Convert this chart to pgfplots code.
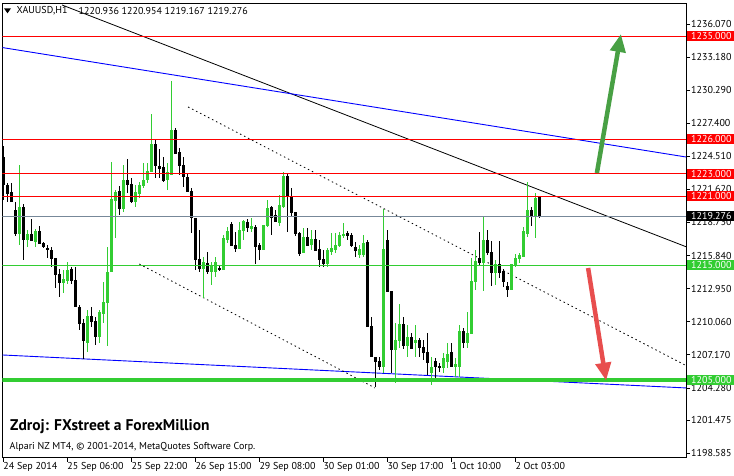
\documentclass[border=0pt]{standalone}
\usepackage{pgfplots}
\pgfplotsset{compat=1.18}
\usepackage{pgfplotstable}
\usepackage{fontspec}
\setmainfont{PT Sans}
\usetikzlibrary{arrows.meta}
\definecolor{cgreen}{RGB}{50,205,50}
\definecolor{cblue}{RGB}{0,0,255}
\definecolor{cred}{RGB}{255,0,0}
\definecolor{cgray}{RGB}{119,136,153}
\definecolor{arrgreen}{RGB}{72,160,68}
\definecolor{arrred}{RGB}{232,78,78}

\pgfplotstableread{
i o h l c
0 1224.42 1225.41 1220.69 1222.00
1 1222.00 1222.15 1220.54 1221.28
2 1221.39 1222.15 1220.54 1220.54
3 1219.79 1220.54 1217.57 1217.75
4 1217.70 1223.75 1216.76 1220.08
5 1220.08 1220.40 1215.45 1217.20
6 1217.20 1218.07 1216.61 1217.72
7 1217.70 1219.01 1217.11 1217.11
8 1217.05 1218.18 1216.56 1217.98
9 1217.98 1218.45 1216.91 1216.91
10 1216.91 1217.02 1216.47 1216.61
11 1216.52 1216.76 1215.60 1216.35
12 1216.32 1216.61 1214.86 1215.56
13 1215.60 1215.60 1212.98 1214.20
14 1214.20 1214.64 1212.24 1213.47
15 1213.47 1214.58 1212.54 1213.79
16 1213.64 1215.30 1213.35 1214.58
17 1214.64 1214.81 1213.35 1213.64
18 1213.70 1214.81 1211.37 1211.37
19 1211.37 1211.52 1209.33 1209.86
20 1209.92 1210.27 1206.77 1208.40
21 1208.22 1211.08 1207.44 1210.56
22 1210.56 1211.37 1209.62 1210.06
23 1210.12 1210.50 1208.02 1208.75
24 1208.75 1211.08 1208.17 1210.85
25 1210.73 1213.55 1209.92 1211.75
26 1211.75 1216.61 1207.94 1214.40
27 1214.40 1224.04 1214.40 1220.75
28 1220.63 1221.57 1217.35 1221.33
29 1221.42 1221.92 1219.38 1219.91
30 1219.91 1223.75 1219.62 1222.44
31 1222.44 1224.28 1221.28 1222.00
32 1222.09 1222.61 1220.43 1220.54
33 1220.54 1222.00 1220.11 1221.37
34 1221.22 1222.29 1220.84 1222.00
35 1221.94 1223.90 1221.71 1222.44
36 1222.44 1223.90 1222.15 1223.17
37 1223.17 1228.21 1223.17 1225.59
38 1225.59 1225.94 1222.59 1223.69
39 1223.69 1225.15 1222.59 1223.46
40 1223.60 1224.48 1222.29 1222.35
41 1222.44 1223.90 1221.57 1223.11
42 1222.88 1231.09 1222.88 1226.81
43 1226.81 1227.01 1224.77 1224.77
44 1224.86 1225.24 1222.88 1223.69
45 1223.75 1224.48 1221.85 1222.73
46 1222.73 1223.05 1221.42 1221.42
47 1221.42 1221.71 1217.78 1219.15
48 1219.15 1219.15 1214.58 1215.45
49 1215.54 1218.07 1214.43 1214.73
50 1214.73 1215.74 1212.16 1215.25
51 1215.16 1216.18 1214.20 1214.43
52 1214.43 1215.30 1213.27 1214.95
53 1214.43 1215.74 1213.99 1215.25
54 1214.78 1214.93 1214.49 1214.66
55 1214.58 1217.63 1214.58 1217.35
56 1217.20 1218.36 1216.91 1217.98
57 1218.60 1218.80 1216.70 1216.70
58 1216.76 1217.92 1216.18 1216.47
59 1216.47 1218.80 1216.47 1218.01
60 1218.01 1218.94 1217.20 1218.80
61 1218.80 1219.03 1217.90 1218.27
62 1218.22 1219.12 1217.90 1218.45
63 1218.36 1218.51 1215.07 1216.61
64 1216.76 1216.91 1215.45 1216.32
65 1216.32 1218.51 1216.32 1218.51
66 1218.45 1220.69 1218.36 1219.97
67 1220.05 1220.17 1217.63 1219.18
68 1219.38 1219.82 1218.80 1218.80
69 1218.74 1221.13 1218.45 1220.26
70 1220.11 1223.17 1219.97 1222.79
71 1222.79 1223.03 1217.92 1220.98
72 1220.98 1221.71 1219.23 1219.62
73 1219.62 1219.62 1217.57 1217.78
74 1217.78 1217.92 1215.83 1216.04
75 1216.12 1218.22 1216.04 1217.43
76 1217.43 1218.22 1216.67 1216.67
77 1216.76 1218.07 1216.32 1217.29
78 1217.29 1218.07 1216.26 1216.26
79 1216.39 1217.20 1214.81 1215.45
80 1215.54 1216.32 1214.86 1215.10
81 1215.10 1216.50 1214.86 1216.32
82 1216.15 1217.78 1215.89 1216.44
83 1216.39 1217.81 1216.06 1216.73
84 1216.67 1217.92 1216.61 1217.63
85 1217.55 1218.66 1217.35 1217.72
86 1217.84 1218.01 1217.20 1217.55
87 1217.61 1217.78 1216.56 1216.67
88 1216.61 1217.05 1215.74 1216.26
89 1215.89 1216.76 1215.60 1216.39
90 1215.89 1217.63 1215.74 1216.91
91 1216.96 1217.20 1209.62 1209.62
92 1209.71 1210.50 1207.00 1207.00
93 1207.00 1207.00 1204.38 1206.56
94 1206.63 1207.00 1205.84 1206.13
95 1206.13 1219.88 1205.55 1216.39
96 1217.20 1218.07 1212.68 1212.68
97 1212.74 1212.74 1205.55 1207.59
98 1207.59 1209.92 1204.68 1208.46
99 1208.40 1211.60 1207.74 1209.86
100 1209.86 1210.50 1207.67 1207.96
101 1207.96 1209.77 1207.00 1208.70
102 1208.70 1209.05 1207.74 1207.74
103 1208.22 1209.77 1207.00 1208.46
104 1208.46 1208.63 1207.00 1207.82
105 1207.82 1208.46 1206.71 1207.39
106 1207.39 1209.05 1205.40 1206.51
107 1205.64 1207.00 1204.53 1206.13
108 1206.63 1206.86 1205.11 1206.13
109 1206.19 1206.45 1205.66 1206.04
110 1206.04 1207.30 1205.55 1206.86
111 1206.56 1208.17 1205.99 1207.21
112 1207.44 1208.17 1206.13 1206.13
113 1206.13 1206.91 1205.25 1206.36
114 1206.13 1209.77 1205.25 1209.19
115 1209.19 1209.48 1207.74 1208.22
116 1208.22 1210.93 1207.74 1209.05
117 1209.05 1215.60 1209.05 1213.62
118 1213.55 1216.32 1212.83 1215.36
119 1215.60 1217.92 1215.01 1215.25
120 1215.25 1219.18 1212.74 1217.20
121 1217.20 1218.07 1215.89 1216.12
122 1216.12 1217.11 1213.18 1214.34
123 1214.34 1215.45 1213.27 1215.07
124 1215.07 1217.11 1213.85 1214.34
125 1214.43 1214.64 1213.12 1213.55
126 1213.18 1213.50 1212.24 1212.83
127 1212.83 1215.07 1212.83 1215.07
128 1215.01 1215.97 1214.86 1215.60
129 1215.60 1216.06 1215.19 1215.83
130 1215.74 1218.31 1215.74 1217.92
131 1217.78 1222.24 1217.49 1219.82
132 1219.82 1220.11 1218.45 1219.32
133 1219.32 1221.28 1217.35 1220.89
134 1220.936 1220.954 1219.167 1219.276
}\candles

\begin{document}
\begin{tikzpicture}[x=1pt,y=1pt]
\useasboundingbox (0,0) rectangle (734,475);
\begin{axis}[
  at={(2.5pt,17.5pt)}, anchor=south west, scale only axis,
  width=683.5pt, height=454.5pt,
  xmin=-0.2, xmax=170.675, ymin=1198.192, ymax=1237.905,
  axis line style={line width=0.8pt, black},
  tick style={black, line width=0.6pt},
  major tick length=4pt, tick align=outside,
  xtick pos=bottom, ytick pos=right, yticklabel pos=right,
  xtick={0,16,32,48,64,80,96,112,128},
  xticklabels={24 Sep 2014,25 Sep 06:00,25 Sep 22:00,26 Sep 15:00,29 Sep 08:00,30 Sep 01:00,30 Sep 17:00,1 Oct 10:00,2 Oct 03:00},
  ytick={1198.585,1201.475,1204.280,1207.170,1210.060,1212.950,1215.840,1218.730,1221.620,1224.510,1227.400,1230.290,1233.180,1236.070},
  yticklabels={1198.585,1201.475,1204.280,1207.170,1210.060,1212.950,1215.840,1218.730,1221.620,1224.510,1227.400,1230.290,1233.180,1236.070},
  tick label style={font=\fontsize{10}{12}\selectfont},
  xticklabel style={anchor=north west, inner sep=0pt, xshift=0pt, yshift=-1pt},
  yticklabel style={anchor=west, inner sep=0pt, xshift=1pt},
]
% trend lines
\addplot[black, line width=0.8pt] coordinates {(14.7,1237.73) (170.675,1216.61)};
\addplot[cblue, line width=0.9pt] coordinates {(-0.2,1234.01) (170.675,1224.45)};
\addplot[cblue, line width=0.9pt] coordinates {(-0.2,1207.15) (170.675,1204.27)};
\addplot[black, line width=0.8pt, dash pattern=on 1.5pt off 3pt] coordinates {(46.2,1228.82) (170.675,1206.23)};
\addplot[black, line width=0.8pt, dash pattern=on 1.5pt off 3pt] coordinates {(34.0,1215.10) (92.9,1204.27)};
% candles: wicks
\addplot[draw=none, mark=none, forget plot,
  restrict expr to domain={\thisrow{c}-\thisrow{o}}{0:100},
  error bars/.cd, y dir=both, y explicit, error mark=none,
  error bar style={draw=cgreen, line width=1pt, solid}]
  table[x=i, y expr={(\thisrow{h}+\thisrow{l})/2}, y error expr={(\thisrow{h}-\thisrow{l})/2}] {\candles};
\addplot[draw=none, mark=none, forget plot,
  restrict expr to domain={\thisrow{c}-\thisrow{o}}{-100:-0.0001},
  error bars/.cd, y dir=both, y explicit, error mark=none,
  error bar style={draw=black, line width=1pt, solid}]
  table[x=i, y expr={(\thisrow{h}+\thisrow{l})/2}, y error expr={(\thisrow{h}-\thisrow{l})/2}] {\candles};
% candles: bodies
\addplot[draw=none, mark=none, forget plot,
  restrict expr to domain={\thisrow{c}-\thisrow{o}}{0:100},
  error bars/.cd, y dir=both, y explicit, error mark=none,
  error bar style={draw=cgreen, line width=3pt, solid}]
  table[x=i, y expr={(\thisrow{o}+\thisrow{c})/2}, y error expr={abs(\thisrow{c}-\thisrow{o})/2+0.02}] {\candles};
\addplot[draw=none, mark=none, forget plot,
  restrict expr to domain={\thisrow{c}-\thisrow{o}}{-100:-0.0001},
  error bars/.cd, y dir=both, y explicit, error mark=none,
  error bar style={draw=black, line width=3pt, solid}]
  table[x=i, y expr={(\thisrow{o}+\thisrow{c})/2}, y error expr={abs(\thisrow{c}-\thisrow{o})/2+0.02}] {\candles};
% horizontal levels
\addplot[cred, line width=1pt] coordinates {(-0.2,1235) (170.675,1235)};
\addplot[cred, line width=1pt] coordinates {(-0.2,1226) (170.675,1226)};
\addplot[cred, line width=1pt] coordinates {(-0.2,1223) (170.675,1223)};
\addplot[cred, line width=1pt] coordinates {(-0.2,1221) (170.675,1221)};
\addplot[cgray, line width=1pt] coordinates {(-0.2,1219.276) (170.675,1219.276)};
\addplot[cgreen, line width=1pt] coordinates {(-0.2,1215) (170.675,1215)};
\addplot[cgreen, line width=4pt] coordinates {(-0.2,1205) (170.675,1205)};
% arrows
\draw[arrgreen, line width=4.5pt, -{Triangle[width=15pt,length=18pt]}] (axis cs:148.4,1223.05) -- (axis cs:154.4,1235.2);
\draw[arrred, line width=4.5pt, -{Triangle[width=15pt,length=18pt]}] (axis cs:146.2,1214.75) -- (axis cs:150.7,1204.9);
\coordinate (t1) at (axis cs:170.675,1235);
\coordinate (t2) at (axis cs:170.675,1226);
\coordinate (t3) at (axis cs:170.675,1223);
\coordinate (t4) at (axis cs:170.675,1221);
\coordinate (t5) at (axis cs:170.675,1219.276);
\coordinate (t6) at (axis cs:170.675,1215);
\coordinate (t7) at (axis cs:170.675,1205);
\end{axis}
% price tags
\foreach \t/\c/\v in {t1/cred/1235.000,t2/cred/1226.000,t3/cred/1223.000,t4/cred/1221.000,t5/black/1219.276,t6/cgreen/1215.000,t7/cgreen/1205.000}{
  \fill[\c] ([xshift=1pt,yshift=-5pt]\t) rectangle ([xshift=48pt,yshift=5pt]\t);
  \node[anchor=west, inner sep=0pt, text=white, font=\fontsize{10}{12}\selectfont] at ([xshift=5pt]\t) {\v};
}
% header
\fill[black] (4,466.7) -- (11,466.7) -- (7.5,461.7) -- cycle;
\node[anchor=west, inner sep=0pt, font=\fontsize{10}{12}\selectfont] at (16.5,464.3) {XAUUSD,H1};
\node[anchor=west, inner sep=0pt, font=\fontsize{10}{12}\selectfont] at (78.5,464.3) {1220.936 1220.954 1219.167 1219.276};
% source text
\node[anchor=west, inner sep=0pt, font=\bfseries\fontsize{15.5}{18}\selectfont] at (10,48) {Zdroj: FXstreet a ForexMillion};
\node[anchor=west, inner sep=0pt, font=\fontsize{10}{12}\selectfont] at (9.5,28) {Alpari NZ MT4, © 2001-2014, MetaQuotes Software Corp.};
\end{tikzpicture}
\end{document}
